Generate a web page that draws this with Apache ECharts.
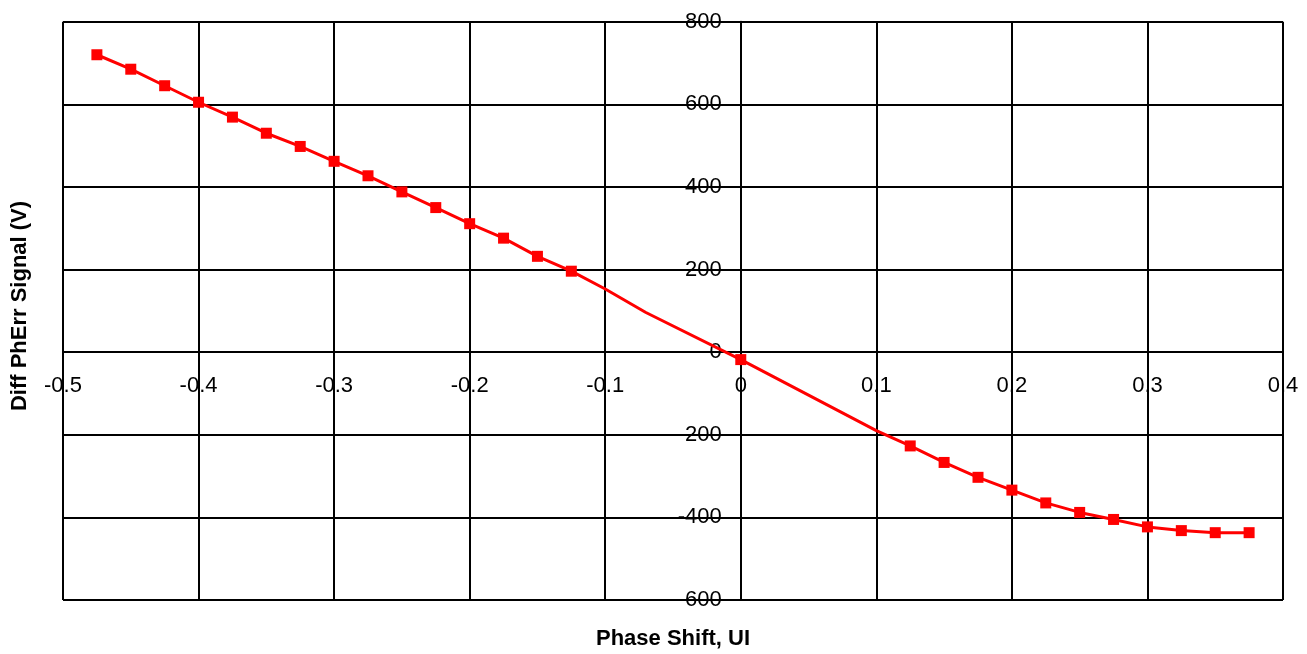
<!DOCTYPE html>
<html>
<head>
<meta charset="utf-8">
<script src="https://cdn.jsdelivr.net/npm/echarts@6/dist/echarts.min.js"></script>
<style>
html,body{margin:0;padding:0;background:#fff;}
#chart{width:1307px;height:654px;}
</style>
</head>
<body>
<div id="chart"></div>
<script>
// Data
const xValues = [-0.475, -0.45, -0.425, -0.4, -0.375, -0.35, -0.325, -0.3, -0.275, -0.25,
  -0.225, -0.2, -0.175, -0.15, -0.125, -0.1, -0.07, 0, 0.1, 0.125,
  0.15, 0.175, 0.2, 0.225, 0.25, 0.275, 0.3, 0.325, 0.35, 0.375];
const yValues = [720, 685, 645, 605, 569, 530, 498, 462, 427, 388,
  350, 311, 276, 232, 196, 153, 96, -18, -190, -227,
  -267, -303, -334, -365, -388, -405, -423, -432, -437, -437];
// 1 = point drawn with a marker, 0 = line vertex only
const hasMarker = [1, 1, 1, 1, 1, 1, 1, 1, 1, 1,
  1, 1, 1, 1, 1, 0, 0, 1, 0, 1,
  1, 1, 1, 1, 1, 1, 1, 1, 1, 1];
const xTicks = [-0.5, -0.4, -0.3, -0.2, -0.1, 0, 0.1, 0.2, 0.3, 0.4];
const yTicks = [-600, -400, -200, 0, 200, 400, 600, 800];
const xTitle = 'Phase Shift, UI';
const yTitle = 'Diff PhErr Signal (V)';

const seriesData = xValues.map((x, i) => {
  const item = { value: [x, yValues[i]] };
  if (!hasMarker[i]) item.symbol = 'none';
  return item;
});

const W = 1307, H = 654;
const G = { left: 63, right: 24, top: 21.7, bottom: 54 };
const xMin = xTicks[0], xMax = xTicks[xTicks.length - 1];
const yMin = yTicks[0], yMax = yTicks[yTicks.length - 1];
const plotW = W - G.left - G.right, plotH = H - G.top - G.bottom;
// axes cross at zero: shift each axis from its grid edge to the zero of the other axis
const xAxisOffset = -((0 - yMin) / (yMax - yMin)) * plotH;
const yAxisOffset = -((0 - xMin) / (xMax - xMin)) * plotW;

const chart = echarts.init(document.getElementById('chart'), null, { renderer: 'canvas' });
const FONT = 'Liberation Sans, Arial, sans-serif';
chart.setOption({
  animation: false,
  backgroundColor: '#ffffff',
  grid: { left: G.left, right: G.right, top: G.top, bottom: G.bottom, containLabel: false },
  xAxis: {
    type: 'value', position: 'bottom', offset: xAxisOffset,
    min: xMin, max: xMax, interval: 0.1,
    axisLine: { show: true, onZero: false, lineStyle: { color: '#000', width: 2 } },
    axisTick: { show: false },
    axisLabel: {
      margin: 23, color: '#000', fontFamily: FONT, fontSize: 22,
      formatter: v => String(Math.round(v * 10) / 10)
    },
    splitLine: { show: true, lineStyle: { color: '#000', width: 2 } }
  },
  yAxis: {
    type: 'value', position: 'left', offset: yAxisOffset,
    min: yMin, max: yMax, interval: 200,
    axisLine: { show: true, onZero: false, lineStyle: { color: '#000', width: 2 } },
    axisTick: { show: true, inside: false, length: 7, lineStyle: { color: '#000', width: 2 } },
    axisLabel: { margin: 19, color: '#000', fontFamily: FONT, fontSize: 22 },
    splitLine: { show: true, lineStyle: { color: '#000', width: 2 } }
  },
  graphic: [
    {
      type: 'text', x: 673, y: 639,
      style: { text: xTitle, font: 'bold 22px ' + FONT, fill: '#000', align: 'center', verticalAlign: 'middle' }
    },
    {
      type: 'text', x: 20, y: 306, rotation: Math.PI / 2,
      style: { text: yTitle, font: 'bold 22px ' + FONT, fill: '#000', align: 'center', verticalAlign: 'middle' }
    }
  ],
  series: [{
    type: 'line',
    data: seriesData,
    smooth: false,
    symbol: 'rect',
    symbolSize: 11,
    showAllSymbol: true,
    lineStyle: { color: '#ff0000', width: 3 },
    itemStyle: { color: '#ff0000' },
    z: 5
  }]
});
</script>
</body>
</html>
